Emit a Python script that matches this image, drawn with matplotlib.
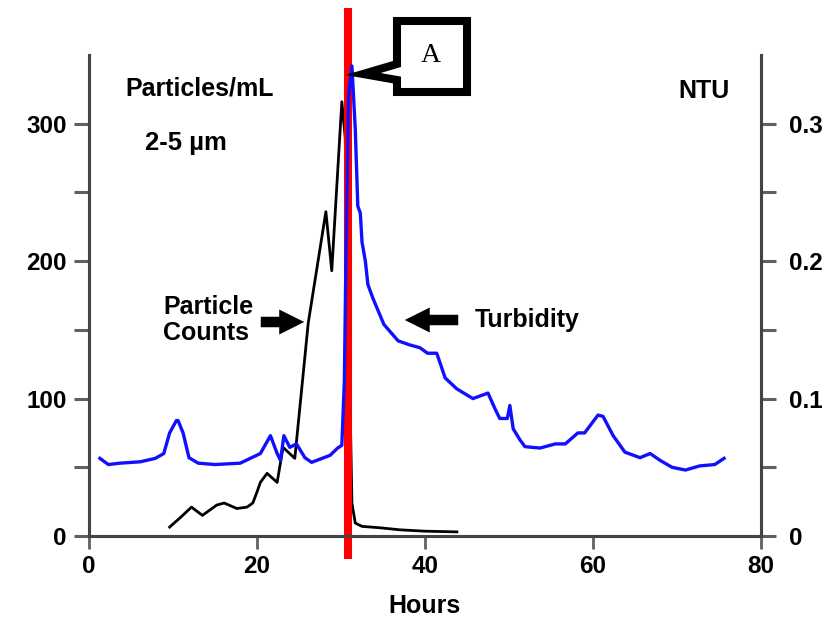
import matplotlib
matplotlib.use("Agg")
import matplotlib.pyplot as plt
from matplotlib.patches import Polygon, FancyArrowPatch

plt.rcParams['font.family'] = ['Liberation Sans', 'DejaVu Sans']
plt.rcParams['font.weight'] = 'bold'

# ---- data ----
turb_hours = [1.3, 2.3, 3.7, 6.1, 7.9, 8.9, 9.6, 10.4, 10.6, 11.2, 11.9, 13.0, 15.0, 18.0,
              20.4, 21.6, 22.4, 22.8, 23.2, 23.9, 24.7, 25.7, 26.5, 28.7, 29.6, 30.1,
              30.4, 30.6, 30.9, 31.3, 31.7, 32.0, 32.3, 32.5, 32.9, 33.2, 33.8, 35.1, 36.8,
              38.2, 39.4, 40.3, 41.4, 42.4, 43.8, 45.7, 47.5, 48.3, 48.9, 49.8, 50.1, 50.5,
              51.3, 51.9, 53.7, 55.5, 56.7, 58.2, 59.0, 60.6, 61.2, 62.4, 63.8, 65.6, 66.8,
              68.0, 69.4, 71.0, 72.7, 74.5, 75.6]
turb_ntu = [0.0565, 0.052, 0.053, 0.054, 0.0565, 0.060, 0.075, 0.084, 0.084, 0.075, 0.057,
            0.053, 0.052, 0.053, 0.060, 0.073, 0.060, 0.055, 0.073, 0.0645, 0.067, 0.057,
            0.0536, 0.0587, 0.064, 0.066, 0.113, 0.207, 0.320, 0.342, 0.296, 0.240, 0.235,
            0.214, 0.200, 0.183, 0.173, 0.154, 0.142, 0.139, 0.137, 0.133, 0.133, 0.115,
            0.107, 0.100, 0.104, 0.093, 0.0855, 0.0855, 0.095, 0.078, 0.070, 0.065,
            0.064, 0.067, 0.067, 0.075, 0.075, 0.088, 0.087, 0.073, 0.061, 0.057, 0.060,
            0.055, 0.050, 0.048, 0.051, 0.052, 0.0565]

pc_hours = [9.6, 10.8, 12.2, 13.5, 15.2, 16.1, 17.6, 18.8, 19.5, 20.0, 20.4, 21.2, 22.4,
            23.1, 24.5, 26.1, 28.2, 28.9, 30.1, 30.5, 31.3, 31.7, 32.5, 34.6, 37.0, 40.0, 43.8]
pc_counts = [6.5, 13, 21, 15, 22.5, 24, 20, 21, 24, 32, 39, 45.6, 39, 64.5, 56.5, 155, 236,
             193, 316, 290, 24, 9.4, 7, 6, 4.5, 3.5, 3]

event_hour = 30.8

x_ticks = [0, 20, 40, 60, 80]
left_ticks = [0, 100, 200, 300]
left_minor = [50, 150, 250]
right_ticks = [0, 0.1, 0.2, 0.3]
right_labels = ['0', '0.1', '0.2', '0.3']
right_minor = [0.05, 0.15, 0.25]

W, H = 827, 617
fig = plt.figure(figsize=(W / 100, H / 100), dpi=100)

def fx(px):
    return px / W

def fy(py):
    return 1 - py / H

ax = fig.add_axes([fx(89), fy(536), fx(761) - fx(89), fy(55) - fy(536)])
ax2 = ax.twinx()

spine_c = '#444444'
tick_c = '#606060'

ax.plot(pc_hours, pc_counts, color='black', lw=2.0, zorder=3)
ax2.plot(turb_hours, turb_ntu, color='#1010ff', lw=2.4, zorder=3)

ax.set_xlim(0, 80)
ax.set_ylim(0, 350)
ax2.set_ylim(0, 0.35)

for a in (ax, ax2):
    a.spines['top'].set_visible(False)
    for s in ('left', 'right', 'bottom'):
        a.spines[s].set_color(spine_c)
        a.spines[s].set_linewidth(2.2)
    a.patch.set_visible(False)

ax.set_xticks(x_ticks)
ax.set_xticklabels([str(v) for v in x_ticks])
ax.set_yticks(left_ticks)
ax.set_yticklabels([str(v) for v in left_ticks])
ax.set_yticks(left_minor, minor=True)
ax2.set_yticks(right_ticks)
ax2.set_yticklabels(right_labels)
ax2.set_yticks(right_minor, minor=True)

ax.tick_params(axis='x', direction='out', length=9, width=2.0, color=tick_c,
               labelsize=17.5, pad=5)
ax.tick_params(axis='y', which='both', direction='out', length=11, width=2.2, color=tick_c,
               labelsize=17.5, pad=5)
ax2.tick_params(axis='y', which='both', direction='out', length=11, width=2.2, color=tick_c,
                labelsize=17.5, pad=9)

ax.set_xlabel('Hours', fontsize=18, fontweight='bold', labelpad=11)

# red event line extending beyond the axes
ax.plot([event_hour, event_hour], [-17, 384], color='#ff0000', lw=5.8, zorder=10,
        clip_on=False, solid_capstyle='butt')

# texts
fig.text(fx(125), fy(88), 'Particles/mL', fontsize=18, fontweight='bold', va='center', ha='left')
fig.text(fx(145), fy(143), '2-5 µm', fontsize=18.5, fontweight='bold', va='center', ha='left')
fig.text(fx(730), fy(91), 'NTU', fontsize=18, fontweight='bold', va='center', ha='right')
fig.text(fx(163), fy(320), 'Particle\nCounts', fontsize=18, fontweight='bold', va='center',
         ha='left', linespacing=1.15)
fig.text(fx(475), fy(320), 'Turbidity', fontsize=18, fontweight='bold', va='center', ha='left')

# arrows
for (x0, x1, yy) in [(258, 307, 322), (461, 402, 320)]:
    arr = FancyArrowPatch((fx(x0), fy(yy)), (fx(x1), fy(yy)), transform=fig.transFigure,
                          arrowstyle='simple,head_width=1.0,head_length=1.0,tail_width=0.42',
                          mutation_scale=18, color='black', lw=0)
    fig.patches.append(arr)

# callout box "A"
pts = [(397, 21), (467, 21), (467, 92), (397, 92), (397, 80), (363, 74), (397, 64)]
poly = Polygon([(fx(x), fy(y)) for x, y in pts], closed=True, transform=fig.transFigure,
               facecolor='white', edgecolor='black', lw=5.8, joinstyle='miter', zorder=20)
fig.patches.append(poly)
fig.text(fx(431), fy(55), 'A', fontsize=20, fontweight='normal', family='Liberation Serif',
         va='center', ha='center', zorder=21)

fig.savefig('out.png', dpi=100)
